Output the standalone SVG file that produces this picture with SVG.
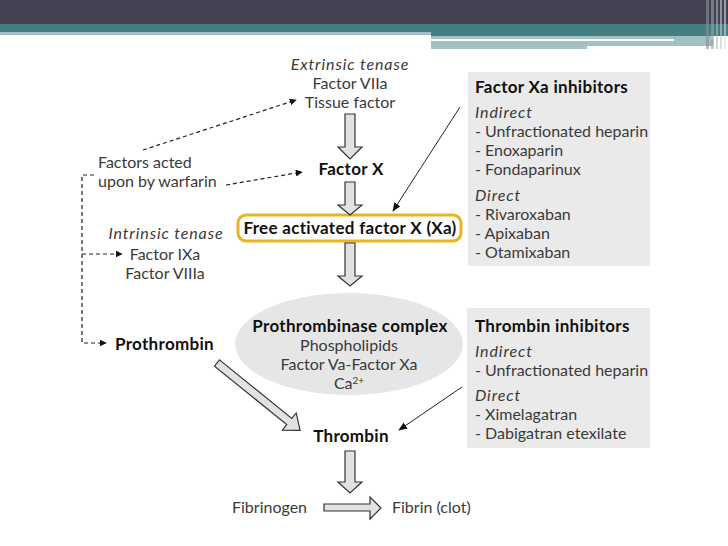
<svg xmlns="http://www.w3.org/2000/svg" width="728" height="546" viewBox="0 0 728 546">
<defs>
<style>
text{font-family:Lato,"Open Sans","Liberation Sans",sans-serif;fill:#3a3a3a;font-size:16px}
.c{text-anchor:middle}
.b{font-weight:bold;fill:#111;font-size:17px;letter-spacing:0.3px}
.i{font-style:italic;letter-spacing:0.9px}
.hol{fill:#e2e2e2;stroke:#333;stroke-width:1.2}
.dash{fill:none;stroke:#222;stroke-width:1.2;stroke-dasharray:4 3}
.thin{fill:none;stroke:#222;stroke-width:1}
.box{fill:#eaeaea}
</style>
<marker id="ah" viewBox="0 0 10 10" refX="9" refY="5" markerWidth="7" markerHeight="7" orient="auto" markerUnits="userSpaceOnUse">
<path d="M0,0 L10,5 L0,10 z" fill="#111"/>
</marker>
<marker id="ah2" viewBox="0 0 10 10" refX="9" refY="5" markerWidth="9" markerHeight="9" orient="auto" markerUnits="userSpaceOnUse">
<path d="M0,1 L10,5 L0,9 z" fill="#111"/>
</marker>
</defs>
<rect width="728" height="546" fill="#fff"/>
<g id="header">
<rect x="0" y="0" width="728" height="24" fill="#434253"/>
<rect x="0" y="24" width="728" height="8" fill="#457e80"/>
<rect x="0" y="32" width="431" height="3" fill="#a2c0c3"/>
<rect x="431" y="32" width="297" height="4" fill="#457e80"/>
<rect x="431" y="36" width="280" height="3" fill="#a2c0c3"/>
<rect x="431" y="39" width="243" height="2" fill="#fff"/>
<rect x="431" y="41" width="156" height="8" fill="#a2c0c3"/>
<rect x="587" y="41" width="126" height="5" fill="#a2c0c3"/>
<rect x="674" y="39" width="39" height="7" fill="#a2c0c3"/>
<rect x="706" y="0" width="3" height="49" fill="#8a8f99" opacity="0.6"/>
<rect x="711" y="0" width="3" height="49" fill="#9aa2ab" opacity="0.6"/>
<rect x="716" y="0" width="2" height="49" fill="#b0b6bd" opacity="0.6"/>
<rect x="720" y="0" width="2" height="49" fill="#c5cacf" opacity="0.6"/>
<rect x="724" y="0" width="2" height="49" fill="#d8dcdf" opacity="0.6"/>
</g>
<g id="ellipse-prothrombinase">
<ellipse cx="349" cy="344" rx="114" ry="51" fill="#e6e6e6"/>
<text class="c b" x="350" y="332">Prothrombinase complex</text>
<text class="c" x="349" y="351">Phospholipids</text>
<text class="c" x="349" y="370">Factor Va-Factor Xa</text>
<text class="c" x="349" y="389">Ca<tspan dy="-5" font-size="10">2+</tspan></text>
</g>
<g id="box-xa">
<rect class="box" x="468" y="72" width="182" height="194"/>
<text class="b" x="475" y="93">Factor Xa inhibitors</text>
<text class="i" x="475" y="118">Indirect</text>
<text x="475" y="137">- Unfractionated heparin</text>
<text x="475" y="156">- Enoxaparin</text>
<text x="475" y="175">- Fondaparinux</text>
<text class="i" x="475" y="201">Direct</text>
<text x="475" y="220" fill="#111">- Rivaroxaban</text>
<text x="475" y="239">- Apixaban</text>
<text x="475" y="258">- Otamixaban</text>
</g>
<g id="box-thrombin">
<rect class="box" x="467" y="308" width="183" height="140"/>
<text class="b" x="475" y="332">Thrombin inhibitors</text>
<text class="i" x="475" y="357">Indirect</text>
<text x="475" y="376">- Unfractionated heparin</text>
<text class="i" x="475" y="401">Direct</text>
<text x="475" y="420">- Ximelagatran</text>
<text x="475" y="439">- Dabigatran etexilate</text>
</g>
<g id="extrinsic">
<text class="c i" x="350" y="70">Extrinsic tenase</text>
<text class="c" x="350" y="89">Factor VIIa</text>
<text class="c" x="350" y="108">Tissue factor</text>
</g>
<g id="factor-x"><text class="c b" x="351" y="175">Factor X</text></g>
<g id="xa">
<rect x="238" y="215" width="223" height="26" rx="8" fill="#fff" stroke="#e6b51f" stroke-width="3"/>
<text class="c b" x="350" y="234">Free activated factor X (Xa)</text>
</g>
<g id="warfarin">
<text x="98" y="168">Factors acted</text>
<text x="98" y="187">upon by warfarin</text>
</g>
<g id="intrinsic">
<text class="c i" x="166" y="239">Intrinsic tenase</text>
<text class="c" x="165" y="260">Factor IXa</text>
<text class="c" x="165" y="279">Factor VIIIa</text>
</g>
<g id="prothrombin"><text class="b" x="115" y="350">Prothrombin</text></g>
<g id="thrombin"><text class="c b" x="351" y="442">Thrombin</text></g>
<g id="fibrinogen"><text x="232" y="513">Fibrinogen</text></g>
<g id="fibrin"><text x="392" y="513">Fibrin (clot)</text></g>
<g id="connectors">
<path class="hol" d="M345,114 H355 V147 H362 L350,159 L338,147 H345 Z"/>
<path class="hol" d="M345,182 H355 V205 H362 L350,215 L338,205 H345 Z"/>
<path class="hol" d="M345,243 H355 V276 H362 L350,286 L338,276 H345 Z"/>
<path class="hol" d="M345,451 H355 V482 H362 L350,493 L338,482 H345 Z"/>
<path class="hol" d="M324,504 H370 V497 L381,508 L370,519 V511 H324 Z"/>
<path class="hol" transform="translate(217,363) rotate(39)" d="M0,-4 H93 V-11 L107,0 L93,11 V4 H0 Z"/>
<path class="dash" d="M143,150 L296,100" marker-end="url(#ah)"/>
<path class="dash" d="M226,185 L302,172" marker-end="url(#ah)"/>
<path class="dash" d="M94,175 H82 V343 H106" marker-end="url(#ah)"/>
<path class="dash" d="M82,254 H122" marker-end="url(#ah)"/>
<path class="thin" d="M460,107 L393,211" marker-end="url(#ah2)"/>
<path class="thin" d="M462,387 L399,430" marker-end="url(#ah2)"/>
</g>
</svg>
